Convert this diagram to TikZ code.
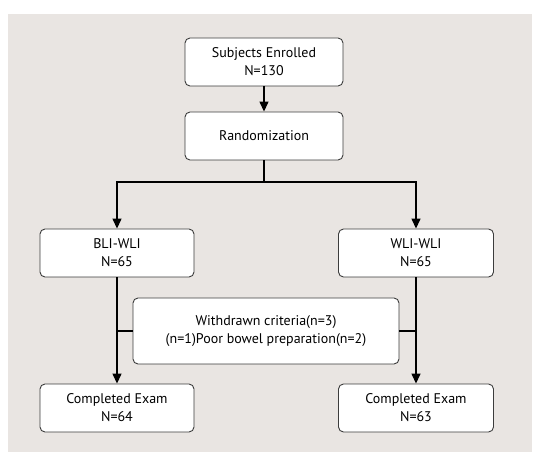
\documentclass[tikz,border=0pt]{standalone}
\usepackage{fontspec}
\setmainfont{PT Sans}
\usetikzlibrary{arrows.meta,positioning}

\definecolor{fundo}{RGB}{233,229,226}
\definecolor{borda}{RGB}{60,60,60}

\tikzset{
  caixa/.style={draw=borda, line width=0.9pt, fill=white, rounded corners=5pt,
    align=center, inner sep=0pt, font=\fontsize{14}{18}\selectfont},
  seta/.style={line width=1.4pt, -{Triangle[width=9pt,length=10pt]}},
  linha/.style={line width=1.4pt}
}

\begin{document}
\begin{tikzpicture}[x=1pt, y=-1pt]
  % Fundo
  \useasboundingbox (0,0) rectangle (533,454);
  \fill[fundo] (8,14) rectangle (532,452);

  % Caixas
  \node[caixa, minimum width=158pt, minimum height=48pt] (enrol) at (264,62) {Subjects Enrolled\\N=130};
  \node[caixa, minimum width=158pt, minimum height=48pt] (rand) at (264,136) {Randomization};
  \node[caixa, minimum width=154pt, minimum height=48pt] (bli) at (117,253) {BLI-WLI\\N=65};
  \node[caixa, minimum width=155pt, minimum height=48pt] (wli) at (416,253) {WLI-WLI\\N=65};
  \node[caixa, minimum width=266pt, minimum height=66pt] (withdrawn) at (266,331) {Withdrawn criteria(n=3)\\(n=1)Poor bowel preparation(n=2)};
  \node[caixa, minimum width=154pt, minimum height=48pt] (compbli) at (117,408) {Completed Exam\\N=64};
  \node[caixa, minimum width=155pt, minimum height=48pt] (compwli) at (416,408) {Completed Exam\\N=63};

  % Ligacoes
  \coordinate (split) at (264,182);
  \draw[seta] (enrol) -- (rand);
  \draw[linha] (rand) -- (split);
  \draw[seta] (split) -| (bli);
  \draw[seta] (split) -| (wli);
  \draw[seta] (bli) -- (compbli);
  \draw[seta] (wli) -- (compwli);

  % Exclusoes
  \draw[linha] (withdrawn.west) -- (withdrawn.west -| bli);
  \draw[linha] (withdrawn.east) -- (withdrawn.east -| wli);
\end{tikzpicture}
\end{document}
